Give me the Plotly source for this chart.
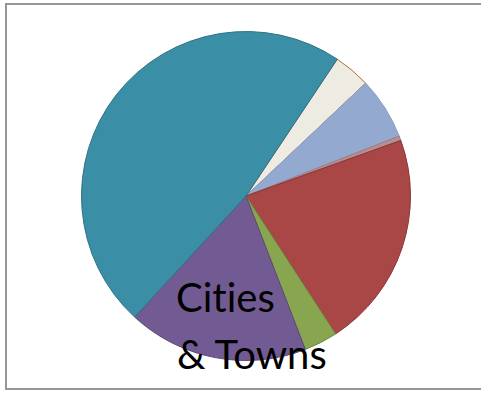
import plotly.graph_objects as go

labels = ["Cream", "Light Blue", "Pink", "Red", "Green", "Purple", "Teal"]
values = [3.6, 6.1, 0.45, 21.3, 3.3, 17.7, 47.5]
colors = ["#EEECE2", "#93A9CF", "#B48E93", "#A84745", "#88A64F", "#725A93", "#3A8FA6"]
line_colors = ["#B5702F", "#8A9EC4", "#A07C80", "#8B3432", "#6C8840", "#5C4878", "#2E7385"]
text_lines = ["Cit\u200cies", "& Towns"]

W, H = 481, 393
cx, cy, r = 246, 196, 164.5

fig = go.Figure(go.Pie(
    labels=labels,
    values=values,
    sort=False,
    direction="clockwise",
    rotation=33.7,
    marker=dict(colors=colors, line=dict(color=line_colors, width=1)),
    textinfo="none",
    hoverinfo="label+percent",
    showlegend=False,
    domain=dict(x=[(cx - r) / W, (cx + r) / W], y=[(H - cy - r) / H, (H - cy + r) / H]),
))

fig.add_shape(type="rect", xref="paper", yref="paper",
              x0=6 / W, x1=1.02, y0=(H - 389) / H, y1=(H - 4) / H,
              line=dict(color="#969696", width=2), fillcolor="rgba(0,0,0,0)")

fig.add_annotation(text=text_lines[0], xref="paper", yref="paper",
                   x=174 / W, y=(H - 323) / H, xanchor="left", yanchor="bottom",
                   showarrow=False, font=dict(family="Lato", size=40, color="#000000"))
fig.add_annotation(text=text_lines[1], xref="paper", yref="paper",
                   x=175 / W, y=(H - 380) / H, xanchor="left", yanchor="bottom",
                   showarrow=False, font=dict(family="Lato", size=40, color="#000000"))

fig.update_layout(width=W, height=H, margin=dict(l=0, r=0, t=0, b=0),
                  paper_bgcolor="white", plot_bgcolor="white")
fig.write_html("out.html")
